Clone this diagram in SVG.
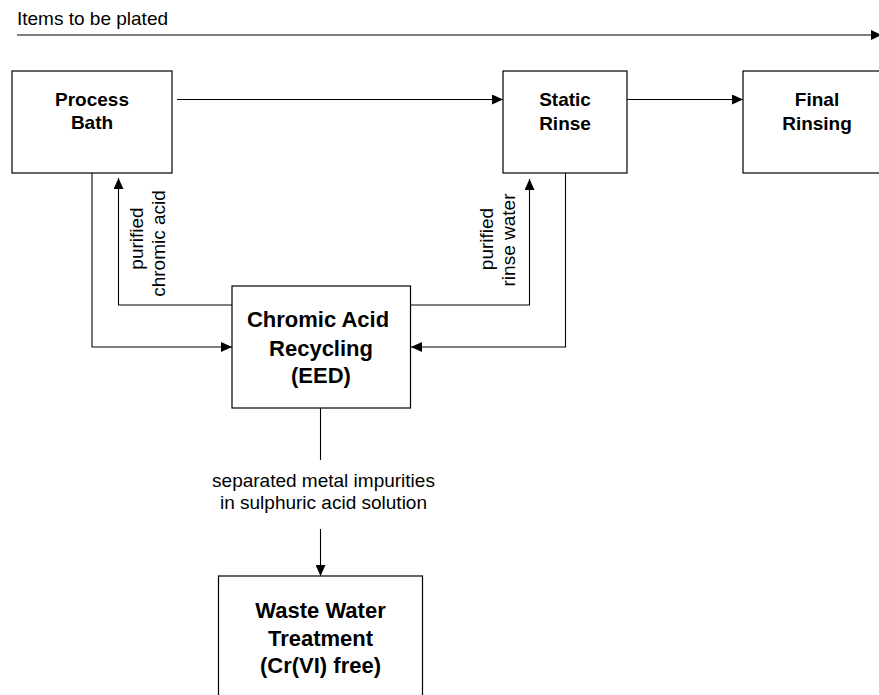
<svg xmlns="http://www.w3.org/2000/svg" width="879" height="695" viewBox="0 0 879 695">
<defs>
<marker id="arr" markerUnits="userSpaceOnUse" markerWidth="12" markerHeight="10" refX="11" refY="5" orient="auto">
<path d="M0,0 L11,5 L0,10 z" fill="#000"/>
</marker>
<style>
.box{fill:#fff;stroke:#000;stroke-width:1.2}
.t{font-family:"Liberation Sans",Arial,sans-serif;font-weight:bold;font-size:19px;text-anchor:middle;fill:#000}
.tb{font-family:"Liberation Sans",Arial,sans-serif;font-weight:bold;font-size:22px;text-anchor:middle;fill:#000}
.lbl{font-family:"Liberation Sans",Arial,sans-serif;font-size:19px;fill:#000}
.c{fill:none;stroke:#000;stroke-width:1.1}
</style>
</defs>
<rect width="879" height="695" fill="#fff"/>
<g id="connectors">
<path class="c" d="M17,35 H882" marker-end="url(#arr)"/>
<path class="c" d="M177,99.5 H503" marker-end="url(#arr)"/>
<path class="c" d="M627,99.5 H743" marker-end="url(#arr)"/>
<path class="c" d="M92,173 V347 H232" marker-end="url(#arr)"/>
<path class="c" d="M232,305 H118.5 V178" marker-end="url(#arr)"/>
<path class="c" d="M411,305 H529.5 V179" marker-end="url(#arr)"/>
<path class="c" d="M565.5,173 V347 H411" marker-end="url(#arr)"/>
<path class="c" d="M320.5,408 V460"/>
<path class="c" d="M320.5,529 V576" marker-end="url(#arr)"/>
</g>
<g id="labels">
<text class="lbl" x="17" y="25">Items to be plated</text>
<text class="lbl" transform="translate(143,238.5) rotate(-90)" text-anchor="middle">purified</text>
<text class="lbl" transform="translate(165,243.5) rotate(-90)" text-anchor="middle">chromic acid</text>
<text class="lbl" transform="translate(493,239) rotate(-90)" text-anchor="middle">purified</text>
<text class="lbl" transform="translate(515,240) rotate(-90)" text-anchor="middle">rinse water</text>
<text class="lbl" x="323.5" y="487" text-anchor="middle">separated metal impurities</text>
<text class="lbl" x="323.5" y="509" text-anchor="middle">in sulphuric acid solution</text>
</g>
<g id="process-bath">
<rect class="box" x="12" y="71" width="160" height="102"/>
<text class="t" x="92" y="106">Process</text>
<text class="t" x="92" y="129">Bath</text>
</g>
<g id="static-rinse">
<rect class="box" x="503" y="71" width="124" height="102"/>
<text class="t" x="565" y="106">Static</text>
<text class="t" x="565" y="130">Rinse</text>
</g>
<g id="final-rinsing">
<rect class="box" x="743" y="71" width="150" height="102"/>
<text class="t" x="817" y="106">Final</text>
<text class="t" x="817" y="130">Rinsing</text>
</g>
<g id="chromic-acid-recycling">
<rect class="box" x="232" y="286" width="178.5" height="122"/>
<text class="tb" x="318" y="327">Chromic Acid</text>
<text class="tb" x="321" y="356">Recycling</text>
<text class="tb" x="321" y="383">(EED)</text>
</g>
<g id="waste-water-treatment">
<rect class="box" x="218.5" y="576" width="204" height="140"/>
<text class="tb" x="320.5" y="618">Waste Water</text>
<text class="tb" x="320.5" y="646">Treatment</text>
<text class="tb" x="320.5" y="673">(Cr(VI) free)</text>
</g>
</svg>
